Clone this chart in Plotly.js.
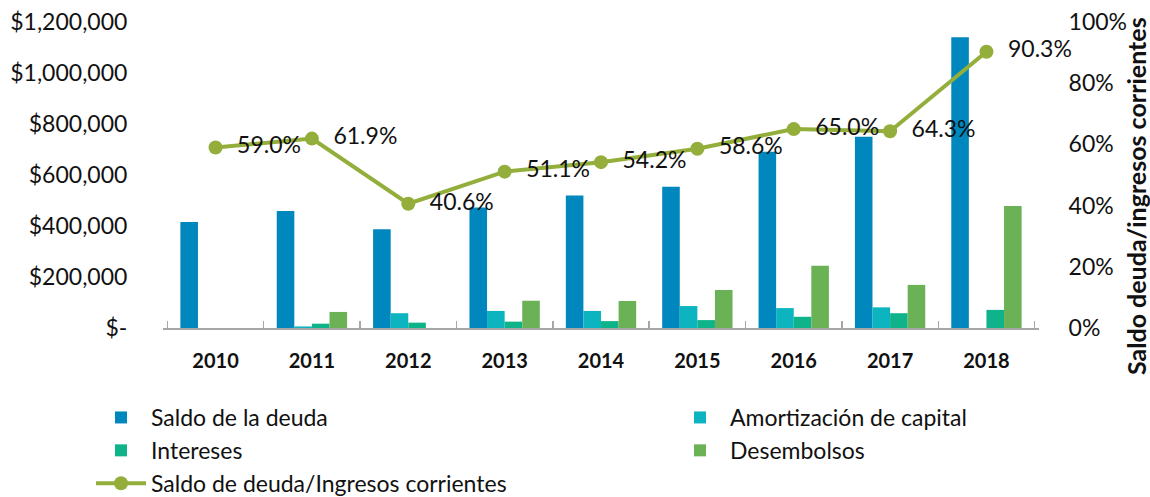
<!DOCTYPE html>
<html>
<head>
<meta charset="utf-8">
<script src="https://cdn.plot.ly/plotly-3.0.1.min.js"></script>
<style>
  html, body { margin: 0; padding: 0; background: #fff; }
  #chart { width: 1150px; height: 497px; }
</style>
</head>
<body>
<div id="chart"></div>
<script>
// Años y series
var years = ["2010", "2011", "2012", "2013", "2014", "2015", "2016", "2017", "2018"];
var saldoDeuda = [416000, 459000, 387000, 473000, 520000, 554000, 691000, 750000, 1140000];
var amortizacion = [0, 6000, 58000, 67000, 67000, 86000, 78000, 81000, 0];
var intereses = [0, 17000, 21000, 25000, 27000, 31000, 44000, 58000, 71000];
var desembolsos = [0, 63000, 0, 107000, 106000, 149000, 244000, 169000, 478000];
var ratioDeuda = [0.590, 0.619, 0.406, 0.511, 0.542, 0.586, 0.650, 0.643, 0.903];

// Etiquetas de los ejes
var leftTicks = [0, 200000, 400000, 600000, 800000, 1000000, 1200000];
var leftTickText = ["$-", "$200,000", "$400,000", "$600,000", "$800,000", "$1,000,000", "$1,200,000"];
var rightTicks = [0, 0.2, 0.4, 0.6, 0.8, 1.0];
var rightTickText = ["0%", "20%", "40%", "60%", "80%", "100%"];
var rightTitle = "Saldo deuda/ingresos corrientes";

var FONT = "Lato, 'Open Sans', sans-serif";

function barTrace(name, values, color, legend) {
    return {
        type: "bar",
        name: name,
        x: years,
        y: values,
        legend: legend,
        marker: { color: color, line: { width: 0 } },
        hoverinfo: "skip"
    };
}

var traces = [
    barTrace("Saldo de la deuda", saldoDeuda, "#0088BE", "legend"),
    barTrace("Amortización de capital", amortizacion, "#0BB4BE", "legend2"),
    barTrace("Intereses", intereses, "#0EB389", "legend"),
    barTrace("Desembolsos", desembolsos, "#6AB255", "legend2"),
    {
        type: "scatter",
        mode: "lines+markers+text",
        name: "Saldo de deuda/Ingresos corrientes",
        legend: "legend",
        x: years,
        y: ratioDeuda,
        yaxis: "y2",
        line: { color: "#94AE3C", width: 4 },
        marker: { color: "#94AE3C", size: 14 },
        texttemplate: "\u00a0\u00a0%{y:.1%}",
        textposition: "middle right",
        textfont: { family: FONT, size: 23, color: "#111" },
        cliponaxis: false,
        hoverinfo: "skip"
    }
];

function legendAt(xPx) {
    return {
        orientation: "v",
        xref: "container",
        yref: "container",
        x: xPx / 1150,
        y: 1 - 396 / 497,
        xanchor: "left",
        yanchor: "top",
        itemwidth: 50,
        traceorder: "normal",
        font: { family: FONT, size: 23, color: "#111" },
        bgcolor: "rgba(0,0,0,0)"
    };
}

var layout = {
    width: 1150,
    height: 497,
    margin: { l: 163, r: 111, t: 22, b: 169, autoexpand: false },
    paper_bgcolor: "#fff",
    plot_bgcolor: "#fff",
    font: { family: FONT, color: "#111" },
    barmode: "group",
    bargap: 0.27,
    bargroupgap: 0,
    showlegend: true,
    xaxis: {
        type: "category",
        showgrid: false,
        showline: true,
        linecolor: "#A6A6A6",
        linewidth: 1.5,
        ticks: "inside",
        tickson: "boundaries",
        ticklen: 7,
        tickcolor: "#A6A6A6",
        tickwidth: 1.5,
        ticklabelstandoff: 14,
        tickfont: { family: FONT, size: 20, color: "#111", weight: "bold" },
        zeroline: false
    },
    yaxis: {
        range: [0, 1200000],
        tickvals: leftTicks,
        ticktext: leftTickText,
        showgrid: false,
        zeroline: false,
        showline: false,
        ticks: "outside",
        ticklen: 30,
        tickcolor: "rgba(0,0,0,0)",
        tickfont: { family: FONT, size: 23, color: "#111" }
    },
    yaxis2: {
        overlaying: "y",
        side: "right",
        range: [0, 1],
        tickvals: rightTicks,
        ticktext: rightTickText,
        showgrid: false,
        zeroline: false,
        showline: false,
        ticks: "outside",
        ticklen: 24,
        tickcolor: "rgba(0,0,0,0)",
        tickfont: { family: FONT, size: 23, color: "#111" }
    },
    annotations: [{
        text: rightTitle,
        xref: "paper",
        yref: "paper",
        x: (1136 - 163) / 876,
        y: (328 - 196) / 306,
        xanchor: "center",
        yanchor: "middle",
        textangle: -90,
        showarrow: false,
        font: { family: FONT, size: 25, color: "#111", weight: "bold" }
    }],
    legend: legendAt(91),
    legend2: legendAt(670)
};

Plotly.newPlot("chart", traces, layout, {
    displayModeBar: false,
    staticPlot: true
});
</script>
</body>
</html>
